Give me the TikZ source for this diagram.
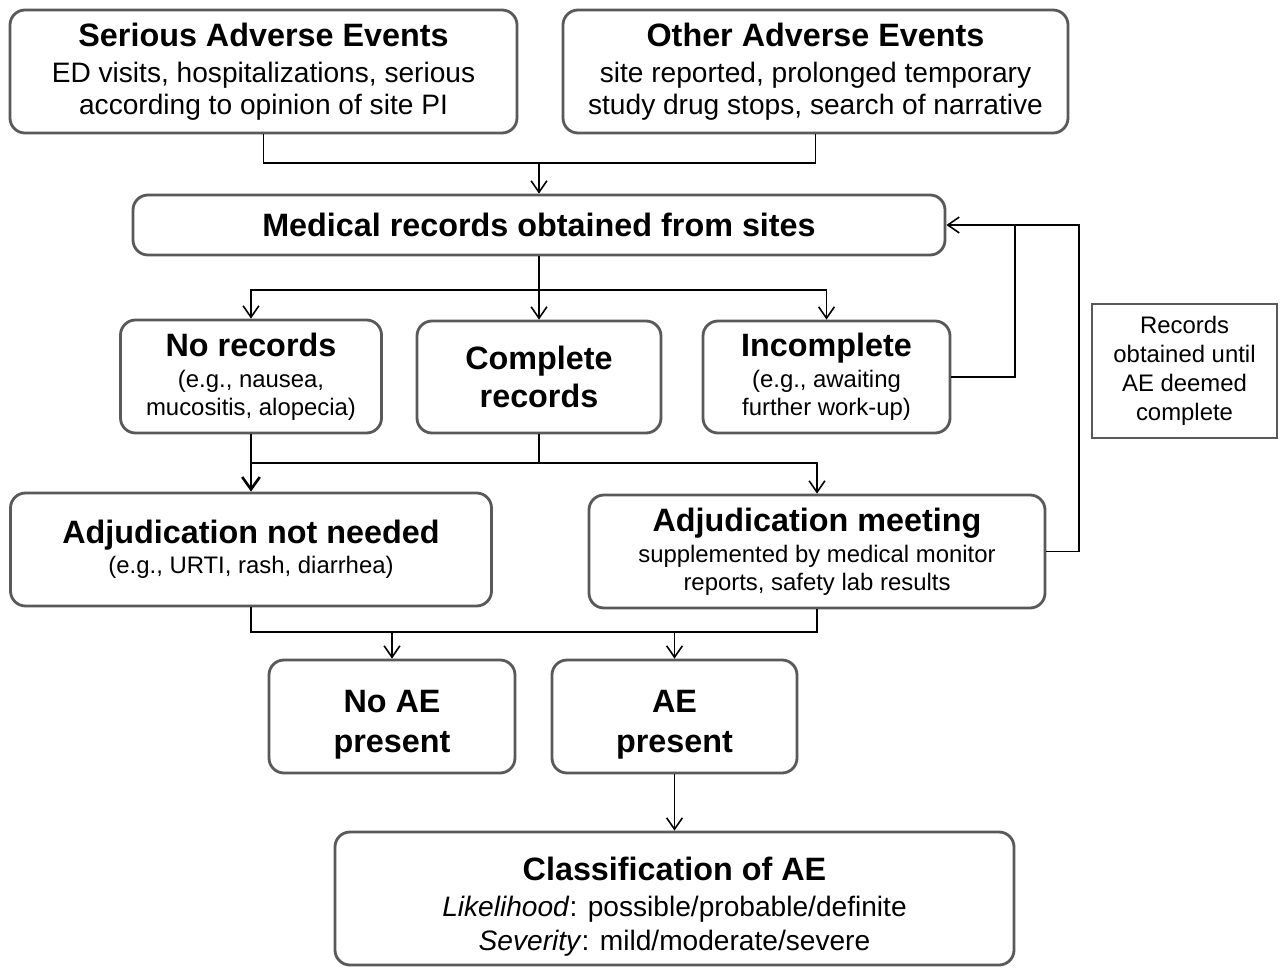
\documentclass[tikz,border=0pt]{standalone}
\usepackage{fontspec}
\setmainfont{Liberation Sans}
\usepackage{tikz}
\usetikzlibrary{arrows.meta,positioning}
\newcommand{\ttl}{\fontsize{18.4}{22}\selectfont\bfseries}
\newcommand{\subt}{\fontsize{16}{18}\selectfont\mdseries}
\newcommand{\smallt}{\fontsize{13.6}{15.9}\selectfont\mdseries}
\tikzset{
    box/.style={
    rectangle,rounded corners=0.3cm,draw=black!65,line width=1.6pt,align=center,inner sep=2pt
    },
    notebox/.style={
    rectangle,draw=black!65,line width=0.9pt,align=center,inner sep=2pt
    },
    conn/.style={
    draw=black,line width=0.9pt
    },
    arr/.style={
    conn,-{Straight Barb[length=6.5pt,width=9pt]}
    },
    arrthick/.style={
    draw=black,line width=1.5pt,-{Straight Barb[length=7pt,width=10pt]}
    },
}
\begin{document}
\begin{tikzpicture}
  \useasboundingbox (0,0) rectangle (25.64,-19.34);
  % top sources
  \node[box,font=\subt,minimum width=10.14cm,minimum height=2.46cm] (SAE) at (5.27,-1.43)
    {\ttl Serious Adverse Events\\[3pt] ED visits, hospitalizations, serious\\ according to opinion of site PI};
  \node[box,font=\subt,minimum width=10.10cm,minimum height=2.46cm] (OAE) at (16.31,-1.43)
    {\ttl Other Adverse Events\\[3pt] site reported, prolonged temporary\\ study drug stops, search of narrative};
  \node[box,font=\ttl,minimum width=16.24cm,minimum height=1.20cm] (MR) at (10.78,-4.50)
    {Medical records obtained from sites};
  % record status
  \node[box,font=\smallt,minimum width=5.22cm,minimum height=2.26cm] (NoRec) at (5.02,-7.53)
    {\ttl No records\\[2pt] (e.g., nausea,\\ mucositis, alopecia)};
  \node[box,font=\ttl,minimum width=4.88cm,minimum height=2.24cm] (Complete) at (10.78,-7.54)
    {Complete\\ records};
  \node[box,font=\smallt,minimum width=4.94cm,minimum height=2.24cm] (Incomplete) at (16.53,-7.54)
    {\ttl Incomplete\\[2pt] (e.g., awaiting\\ further work-up)};
  \node[notebox,font=\fontsize{13.6}{16.4}\selectfont,minimum width=3.70cm,minimum height=2.68cm] (Note) at (23.69,-7.42)
    {Records\\ obtained until\\ AE deemed\\ complete};
  % adjudication
  \node[box,font=\smallt,minimum width=9.62cm,minimum height=2.26cm] (AdjNo) at (5.02,-10.99)
    {\ttl Adjudication not needed\\[1pt] (e.g., URTI, rash, diarrhea)};
  \node[box,font=\smallt,minimum width=9.12cm,minimum height=2.26cm] (AdjMeet) at (16.34,-11.03)
    {\ttl Adjudication meeting\\[1.5pt] supplemented by medical monitor\\ reports, safety lab results};
  % outcome
  \node[box,font=\fontsize{18.4}{22.7}\selectfont\bfseries,minimum width=4.92cm,minimum height=2.26cm] (NoAE) at (7.84,-14.33)
    {\rule{0pt}{22pt}No AE\\ present};
  \node[box,font=\fontsize{18.4}{22.7}\selectfont\bfseries,minimum width=4.90cm,minimum height=2.26cm] (AE) at (13.49,-14.33)
    {\rule{0pt}{22pt}AE\\ present};
  \node[box,font=\fontsize{16}{19.3}\selectfont,minimum width=13.58cm,minimum height=2.66cm] (Class) at (13.49,-17.97)
    {\ttl\rule{0pt}{22.5pt}Classification of AE\\[1.2pt] \textit{Likelihood}: possible/probable/definite\\ \textit{Severity}: mild/moderate/severe};

  \coordinate (join1) at (10.78,-3.26);
  \coordinate (split1) at (10.78,-5.80);
  \coordinate (fb1) at (20.30,-4.50);
  \coordinate (fb2) at (21.58,-4.50);
  \coordinate (merge1) at (10.78,-9.26);
  \coordinate (bus) at (10.78,-12.64);

  \draw[conn] (SAE.south) |- (join1) -| (OAE.south);
  \draw[arr] (join1) -- (MR.north);
  \draw[conn] (MR.south) -- (split1);
  \draw[arr] (split1) -| (NoRec.north);
  \draw[arr] (split1) -- (Complete.north);
  \draw[arr] (split1) -| (Incomplete.north);
  \draw[arr] (Incomplete.east) -| (fb1) -- (MR.east);
  \draw[conn] (AdjMeet.east) -| (fb2) -- (fb1);
  \draw[arrthick] (NoRec.south) -- (AdjNo.north);
  \draw[conn] (Complete.south) -- (merge1) -- (NoRec.south |- merge1);
  \draw[arr] (merge1) -| (AdjMeet.north);
  \draw[conn] (AdjNo.south) |- (bus) -| (AdjMeet.south);
  \draw[arr] (NoAE.north |- bus) -- (NoAE.north);
  \draw[arr] (AE.north |- bus) -- (AE.north);
  \draw[arr] (AE.south) -- (Class.north);
\end{tikzpicture}
\end{document}
